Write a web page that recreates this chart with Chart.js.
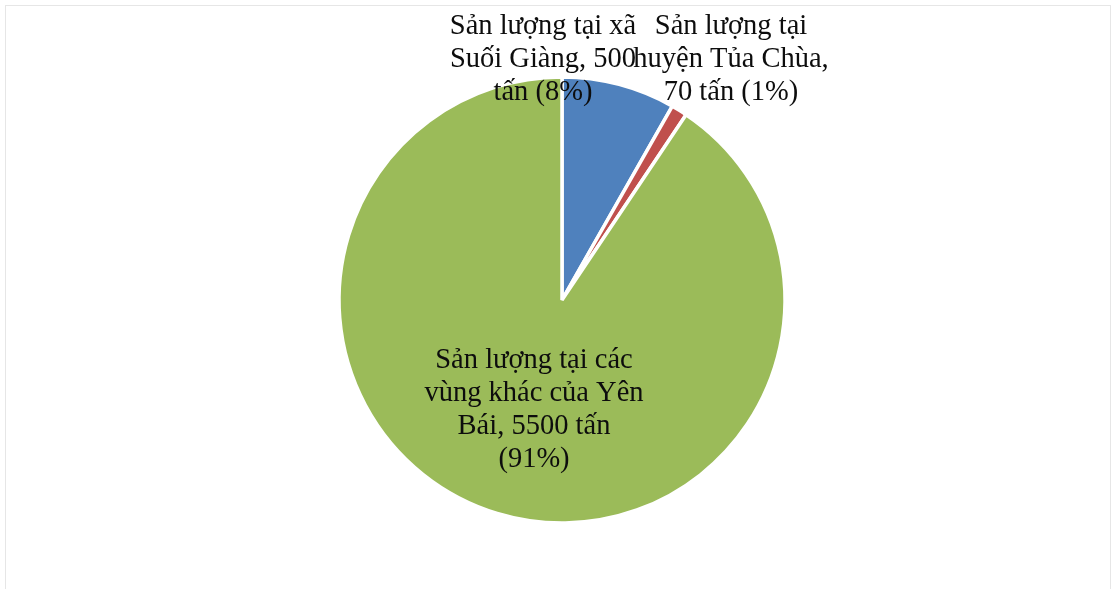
<!DOCTYPE html>
<html>
<head>
<meta charset="utf-8">
<script src="https://cdn.jsdelivr.net/npm/chart.js@4/dist/chart.umd.min.js"></script>
<style>
  html, body { margin: 0; padding: 0; background: #ffffff; overflow: hidden; }
  #frame { position: absolute; left: 5px; top: 5px; width: 1106px; height: 620px;
           border: 1px solid #e6e6e6; box-sizing: border-box; }
  #wrap { position: absolute; left: 0; top: 0; width: 1116px; height: 589px; }
</style>
</head>
<body>
<div id="frame"></div>
<div id="wrap"><canvas id="chart" width="1116" height="589"></canvas></div>
<script>
// Sản lượng theo khu vực (tấn)
const categories = [
  'Sản lượng tại xã Suối Giàng',
  'Sản lượng tại huyện Tủa Chùa',
  'Sản lượng tại các vùng khác của Yên Bái'
];
const values = [500, 70, 5500];
const unit = 'tấn';
const sliceColors = ['#4f81bd', '#c0504d', '#9bbb59'];

const FONT = '28.5px "Liberation Serif", "Times New Roman", serif';
const LINE_H = 33;

// label placement relative to pie centre: dx = horizontal centre of text,
// dy = baseline of the first line, w = wrap width
const labelLayout = [
  { dx: -19, dy: -266, w: 196 },
  { dx: 169, dy: -266, w: 206 },
  { dx: -28, dy: 68,   w: 224 }
];

function wrap(ctx, text, maxW) {
  const words = text.split(' ');
  const lines = [];
  let cur = '';
  for (const w of words) {
    const t = cur ? cur + ' ' + w : w;
    if (cur && ctx.measureText(t).width > maxW) { lines.push(cur); cur = w; }
    else cur = t;
  }
  if (cur) lines.push(cur);
  return lines;
}

const sliceLabels = {
  id: 'sliceLabels',
  afterDatasetsDraw(chart) {
    const ctx = chart.ctx;
    const meta = chart.getDatasetMeta(0);
    const data = chart.data.datasets[0].data;
    const total = data.reduce((a, b) => a + b, 0);
    ctx.save();
    ctx.font = FONT;
    ctx.fillStyle = '#0d0d0d';
    ctx.textAlign = 'center';
    ctx.textBaseline = 'alphabetic';
    meta.data.forEach((arc, i) => {
      const pct = Math.round(data[i] / total * 100);
      const text = chart.data.labels[i] + ', ' + data[i] + ' ' + unit + ' (' + pct + '%)';
      const L = labelLayout[i];
      const lines = wrap(ctx, text, L.w);
      lines.forEach((ln, k) => {
        ctx.fillText(ln, arc.x + L.dx, arc.y + L.dy + k * LINE_H);
      });
    });
    ctx.restore();
  }
};

new Chart(document.getElementById('chart'), {
  type: 'pie',
  data: {
    labels: categories,
    datasets: [{
      data: values,
      backgroundColor: sliceColors,
      borderColor: '#ffffff',
      borderWidth: 3.5
    }]
  },
  options: {
    responsive: false,
    animation: false,
    radius: 223,
    layout: { padding: { left: 8, right: 0, top: 11, bottom: 0 } },
    plugins: {
      legend: { display: false },
      tooltip: { enabled: false }
    }
  },
  plugins: [sliceLabels]
});
</script>
</body>
</html>
